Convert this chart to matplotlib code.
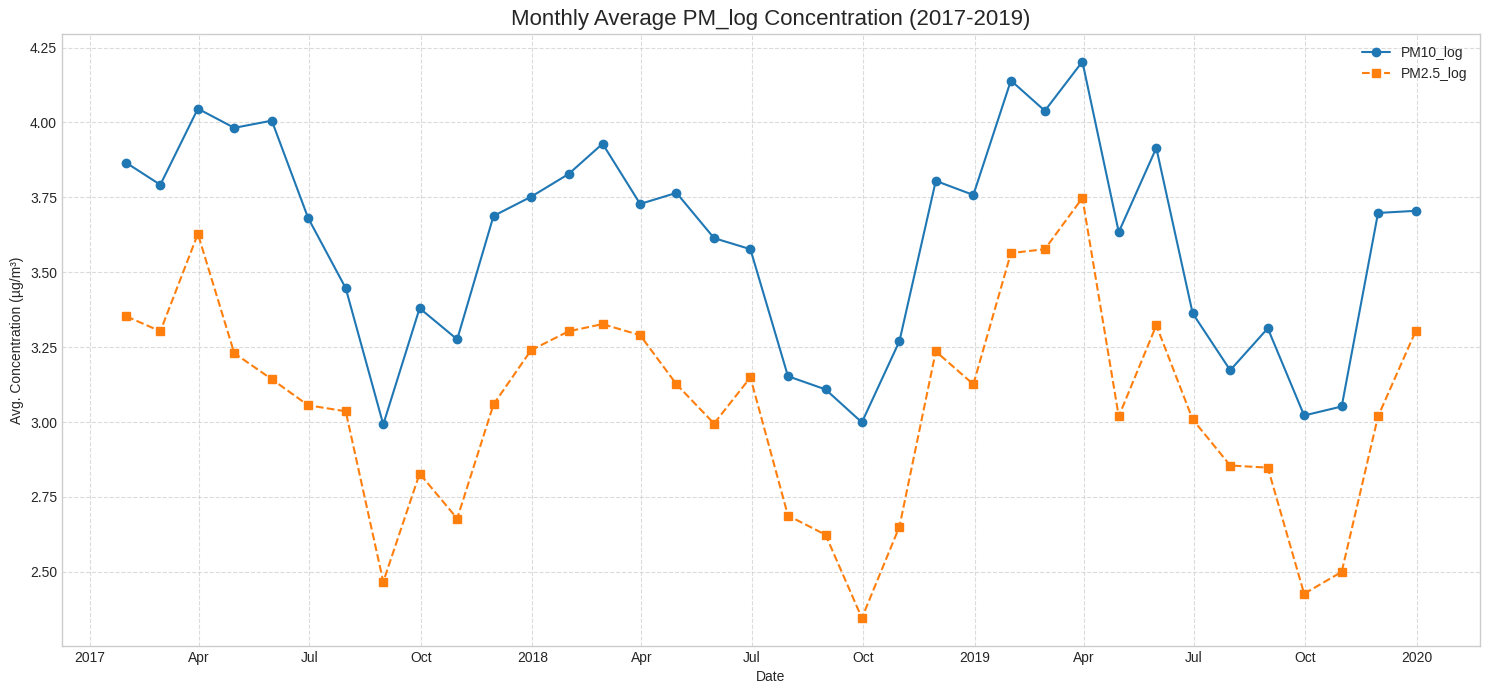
import numpy as np
import pandas as pd
import matplotlib
matplotlib.use("Agg")
import matplotlib.pyplot as plt
import matplotlib.dates as mdates

# monthly averages, month-end dates
dates = pd.date_range("2017-01-31", "2019-12-31", freq="ME")

pm10_log = [3.865, 3.792, 4.046, 3.982, 4.006, 3.681, 3.447, 2.992, 3.380, 3.276, 3.688, 3.752,
            3.828, 3.929, 3.728, 3.765, 3.614, 3.577, 3.153, 3.109, 2.999, 3.270, 3.805, 3.758,
            4.140, 4.039, 4.203, 3.634, 3.915, 3.363, 3.173, 3.313, 3.022, 3.052, 3.698, 3.705]

pm25_log = [3.353, 3.303, 3.628, 3.230, 3.143, 3.056, 3.036, 2.467, 2.828, 2.678, 3.059, 3.240,
            3.303, 3.327, 3.290, 3.126, 2.995, 3.149, 2.688, 2.624, 2.346, 2.651, 3.236, 3.126,
            3.564, 3.577, 3.748, 3.019, 3.323, 3.009, 2.855, 2.848, 2.427, 2.500, 3.019, 3.303]

plt.style.use("seaborn-v0_8-whitegrid")

fig, ax = plt.subplots(figsize=(14.89, 6.9), dpi=100)
ax.plot(dates, pm10_log, marker='o', linestyle='-', label='PM10_log')
ax.plot(dates, pm25_log, marker='s', linestyle='--', label='PM2.5_log')

# quarterly ticks, concise labels (2017, Apr, Jul, Oct, ...)
locator = mdates.MonthLocator(bymonth=[1, 4, 7, 10])
ax.xaxis.set_major_locator(locator)
ax.xaxis.set_major_formatter(mdates.ConciseDateFormatter(locator))

ax.set_title('Monthly Average PM_log Concentration (2017-2019)', fontsize=16)
ax.set_xlabel('Date')
ax.set_ylabel('Avg. Concentration (µg/m³)')
ax.grid(True, linestyle='--', alpha=0.7)
ax.legend(loc='upper right')
for s in ax.spines.values():
    s.set_visible(True)
    s.set_color('#cccccc')

plt.subplots_adjust(left=0.0416, right=0.994, top=0.951, bottom=0.064)
plt.savefig('out.png')
